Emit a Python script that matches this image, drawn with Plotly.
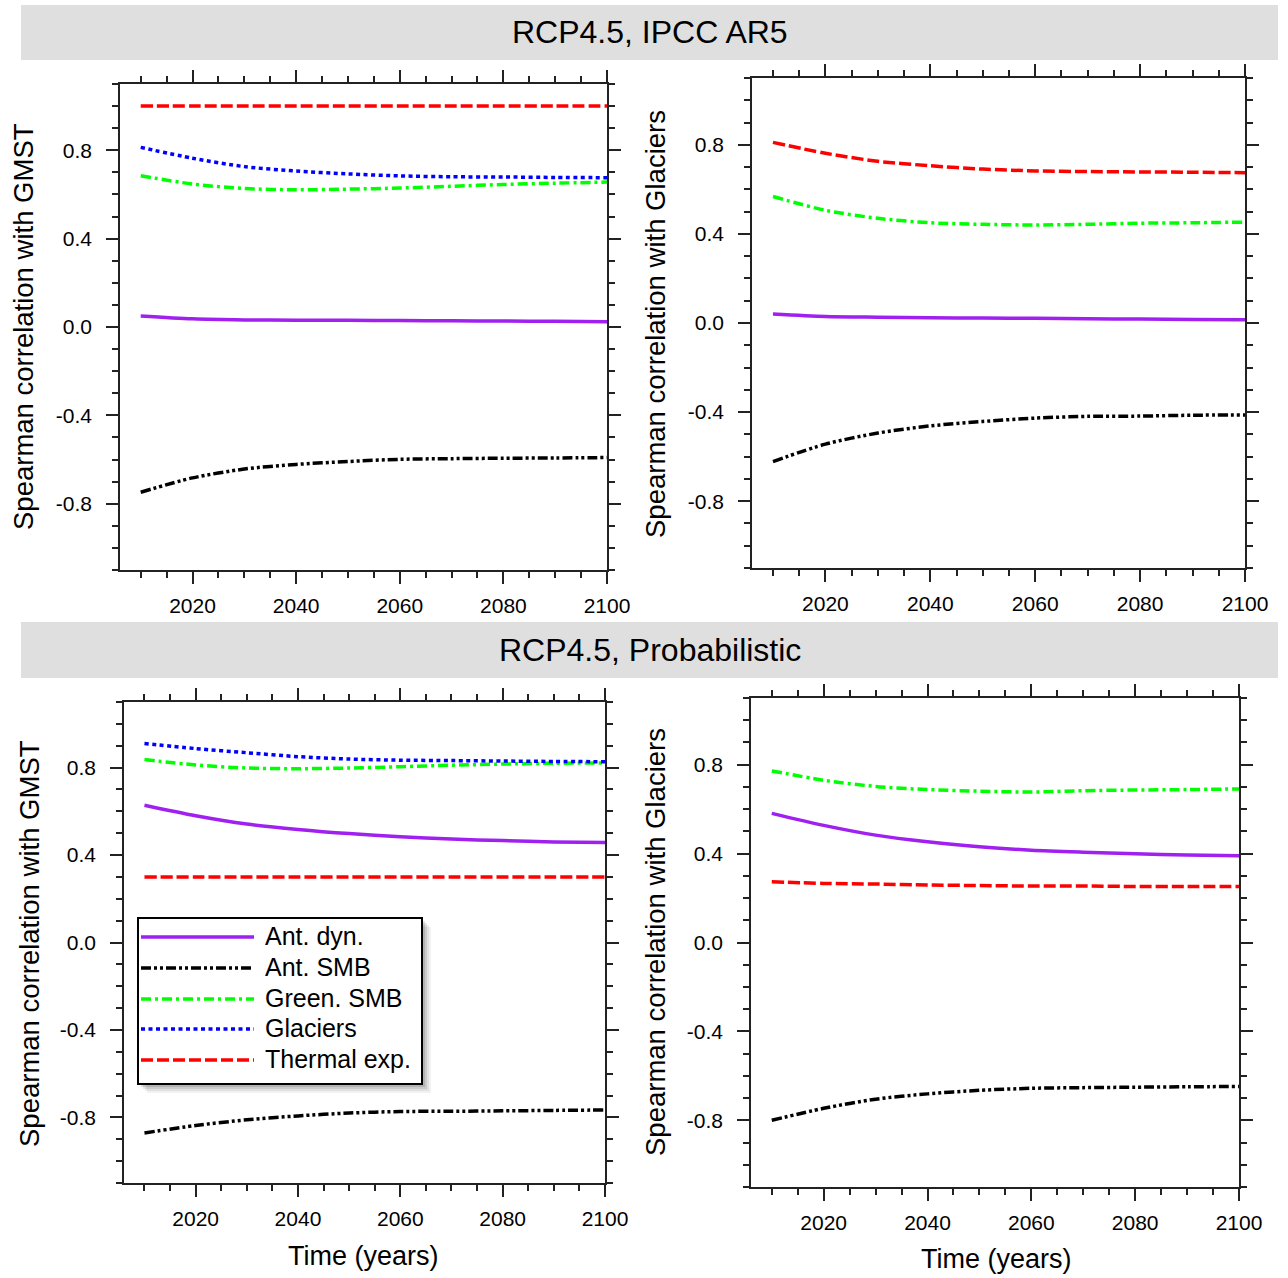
import plotly.graph_objects as go

# ---------------- data ----------------
years = [2010, 2020, 2030, 2040, 2050, 2060, 2070, 2080, 2090, 2100]

series_names = ["Ant. dyn.", "Ant. SMB", "Green. SMB", "Glaciers", "Thermal exp."]
series_colors = ["#A020F0", "#000000", "#00FF00", "#0000FF", "#FF0000"]
series_dashes = ["solid", "10px,3px,3px,3px,3px,3px", "10px,4px,3px,4px", "4px,3.5px", "12px,4px"]

# RCP4.5, IPCC AR5 - correlation with GMST
ipcc_gmst_ant_dyn = [0.050, 0.037, 0.032, 0.031, 0.030, 0.029, 0.028, 0.027, 0.026, 0.024]
ipcc_gmst_ant_smb = [-0.748, -0.683, -0.643, -0.622, -0.609, -0.599, -0.596, -0.594, -0.593, -0.591]
ipcc_gmst_green_smb = [0.685, 0.647, 0.627, 0.621, 0.624, 0.629, 0.637, 0.645, 0.651, 0.656]
ipcc_gmst_glaciers = [0.813, 0.764, 0.726, 0.706, 0.693, 0.684, 0.680, 0.679, 0.677, 0.676]
ipcc_gmst_thermal = [1.0, 1.0, 1.0, 1.0, 1.0, 1.0, 1.0, 1.0, 1.0, 1.0]

# RCP4.5, IPCC AR5 - correlation with Glaciers
ipcc_glac_ant_dyn = [0.040, 0.029, 0.026, 0.024, 0.022, 0.021, 0.019, 0.018, 0.016, 0.015]
ipcc_glac_ant_smb = [-0.622, -0.544, -0.494, -0.462, -0.442, -0.427, -0.419, -0.418, -0.414, -0.413]
ipcc_glac_green_smb = [0.568, 0.506, 0.470, 0.450, 0.443, 0.440, 0.443, 0.448, 0.450, 0.453]
ipcc_glac_thermal = [0.811, 0.762, 0.726, 0.706, 0.691, 0.683, 0.680, 0.678, 0.677, 0.675]

# RCP4.5, Probabilistic - correlation with GMST
prob_gmst_ant_dyn = [0.628, 0.580, 0.542, 0.517, 0.498, 0.484, 0.473, 0.466, 0.460, 0.457]
prob_gmst_ant_smb = [-0.871, -0.837, -0.811, -0.793, -0.780, -0.773, -0.772, -0.770, -0.768, -0.766]
prob_gmst_green_smb = [0.837, 0.812, 0.798, 0.795, 0.798, 0.804, 0.811, 0.816, 0.820, 0.821]
prob_gmst_glaciers = [0.910, 0.887, 0.868, 0.850, 0.839, 0.834, 0.832, 0.830, 0.828, 0.827]
prob_gmst_thermal = [0.30, 0.30, 0.30, 0.30, 0.30, 0.30, 0.30, 0.30, 0.30, 0.30]

# RCP4.5, Probabilistic - correlation with Glaciers
prob_glac_ant_dyn = [0.581, 0.527, 0.483, 0.453, 0.431, 0.415, 0.406, 0.399, 0.394, 0.390]
prob_glac_ant_smb = [-0.800, -0.746, -0.705, -0.681, -0.665, -0.656, -0.653, -0.651, -0.649, -0.648]
prob_glac_green_smb = [0.772, 0.730, 0.702, 0.688, 0.681, 0.677, 0.683, 0.686, 0.688, 0.691]
prob_glac_thermal = [0.273, 0.266, 0.263, 0.259, 0.256, 0.254, 0.254, 0.252, 0.252, 0.252]

y_tick_vals = [-0.8, -0.4, 0.0, 0.4, 0.8]
y_tick_text = ["-0.8", "-0.4", "0.0", "0.4", "0.8"]
x_tick_vals = [2020, 2040, 2060, 2080, 2100]
x_tick_text = ["2020", "2040", "2060", "2080", "2100"]

header_titles = ["RCP4.5, IPCC AR5", "RCP4.5, Probabilistic"]
y_title_gmst = "Spearman correlation with GMST"
y_title_glac = "Spearman correlation with Glaciers"
x_title = "Time (years)"

# ---------------- layout helpers ----------------
W, H = 1288, 1278
FONT = "Liberation Sans, Arial, Helvetica, sans-serif"


def fx(px):
    return px / W


def fy(py):
    return 1 - py / H


# panel series: (series index, values)
panels = [
    [(0, ipcc_gmst_ant_dyn), (1, ipcc_gmst_ant_smb), (2, ipcc_gmst_green_smb),
     (3, ipcc_gmst_glaciers), (4, ipcc_gmst_thermal)],
    [(0, ipcc_glac_ant_dyn), (1, ipcc_glac_ant_smb), (2, ipcc_glac_green_smb),
     (4, ipcc_glac_thermal)],
    [(0, prob_gmst_ant_dyn), (1, prob_gmst_ant_smb), (2, prob_gmst_green_smb),
     (3, prob_gmst_glaciers), (4, prob_gmst_thermal)],
    [(0, prob_glac_ant_dyn), (1, prob_glac_ant_smb), (2, prob_glac_green_smb),
     (4, prob_glac_thermal)],
]
# pixel boxes: left, top, right, bottom
boxes = [(120, 84, 607, 570), (752, 78, 1245, 568),
         (124, 702, 605, 1183), (751, 698, 1239, 1187)]
y_titles = [y_title_gmst, y_title_glac, y_title_gmst, y_title_glac]
y_title_pos = [(23, 327), (655, 324), (29, 944), (655, 942)]
x_title_pos = [None, None, (363, 1256), (996, 1259)]

fig = go.Figure()

AX_COLOR = "#222222"
layout = dict(
    template="none",
    width=W, height=H, autosize=False,
    margin=dict(l=0, r=0, t=0, b=0, pad=0),
    paper_bgcolor="white", plot_bgcolor="white",
    showlegend=False,
    font=dict(family=FONT, color="black"),
)

for i, (series, box) in enumerate(zip(panels, boxes)):
    n = i + 1
    xa = "x" if n == 1 else f"x{n}"
    ya = "y" if n == 1 else f"y{n}"
    for si, vals in series:
        fig.add_trace(go.Scatter(
            x=years, y=vals, mode="lines", name=series_names[si],
            line=dict(color=series_colors[si], width=3.5, dash=series_dashes[si],
                      shape="spline", smoothing=0.8),
            xaxis=xa, yaxis=ya, hoverinfo="skip",
        ))
    l, t, r, b = box
    layout[f"xaxis{n}"] = dict(
        domain=[fx(l), fx(r)], range=[2006, 2100], anchor=ya,
        automargin=False,
        tickvals=x_tick_vals, ticktext=x_tick_text,
        ticks="outside", ticklen=12, tickwidth=1.5, tickcolor=AX_COLOR,
        minor=dict(dtick=5, tick0=2000, ticks="outside", ticklen=6,
                   tickwidth=1.5, tickcolor=AX_COLOR, showgrid=False),
        showline=True, linecolor=AX_COLOR, linewidth=1.5, mirror="allticks",
        showgrid=False, zeroline=False,
        tickfont=dict(size=21, family=FONT, color="black"),
        ticklabelstandoff=4,
    )
    layout[f"yaxis{n}"] = dict(
        domain=[fy(b), fy(t)], range=[-1.1, 1.1], anchor=xa,
        automargin=False,
        tickvals=y_tick_vals, ticktext=y_tick_text,
        ticks="outside", ticklen=12, tickwidth=1.5, tickcolor=AX_COLOR,
        minor=dict(dtick=0.1, tick0=0, ticks="outside", ticklen=6,
                   tickwidth=1.5, tickcolor=AX_COLOR, showgrid=False),
        showline=True, linecolor=AX_COLOR, linewidth=1.5, mirror="allticks",
        showgrid=False, zeroline=False,
        tickfont=dict(size=21, family=FONT, color="black"),
        ticklabelstandoff=10,
    )

shapes = []
annotations = []

# header bars
for (top, bot), title in zip([(5, 60), (622, 678)], header_titles):
    shapes.append(dict(type="rect", xref="paper", yref="paper",
                       x0=fx(21), x1=fx(1278), y0=fy(bot), y1=fy(top),
                       fillcolor="#dfdfdf", line=dict(width=0), layer="below"))
    annotations.append(dict(text=title, xref="paper", yref="paper",
                            x=fx(650), y=fy((top + bot) / 2), showarrow=False,
                            xanchor="center", yanchor="middle",
                            font=dict(size=32, family=FONT, color="black")))

# axis titles
for i in range(4):
    x, y = y_title_pos[i]
    annotations.append(dict(text=y_titles[i], xref="paper", yref="paper",
                            x=fx(x), y=fy(y), showarrow=False, textangle=-90,
                            xanchor="center", yanchor="middle",
                            font=dict(size=27.5, family=FONT, color="black")))
    if x_title_pos[i] is not None:
        x, y = x_title_pos[i]
        annotations.append(dict(text=x_title, xref="paper", yref="paper",
                                x=fx(x), y=fy(y), showarrow=False,
                                xanchor="center", yanchor="middle",
                                font=dict(size=27, family=FONT, color="black")))

# manual legend in lower-left panel
lg_l, lg_t, lg_r, lg_b = 138, 918, 422, 1084
for off, op in [(9, 0.05), (7, 0.07), (5, 0.09), (3, 0.12)]:
    shapes.append(dict(type="rect", xref="paper", yref="paper",
                       x0=fx(lg_l + off), x1=fx(lg_r + off),
                       y0=fy(lg_b + off), y1=fy(lg_t + off),
                       fillcolor=f"rgba(0,0,0,{op})", line=dict(width=0), layer="above"))
shapes.append(dict(type="rect", xref="paper", yref="paper",
                   x0=fx(lg_l), x1=fx(lg_r), y0=fy(lg_b), y1=fy(lg_t),
                   fillcolor="white", line=dict(color="black", width=2), layer="above"))
row_y = [937, 968, 999, 1029, 1060]
for si, ry in enumerate(row_y):
    shapes.append(dict(type="line", xref="paper", yref="paper",
                       x0=fx(141), x1=fx(254), y0=fy(ry), y1=fy(ry),
                       line=dict(color=series_colors[si], width=3.5,
                                 dash=series_dashes[si]), layer="above"))
    annotations.append(dict(text=series_names[si], xref="paper", yref="paper",
                            x=fx(263), y=fy(ry - 1), showarrow=False,
                            xanchor="left", yanchor="middle",
                            font=dict(size=25, family=FONT, color="black")))

layout["shapes"] = shapes
layout["annotations"] = annotations
fig.update_layout(**layout)

fig.write_html("out.html",
               config={"displayModeBar": False, "responsive": False},
               post_script="document.body.style.margin='0';document.body.style.overflow='hidden';")
